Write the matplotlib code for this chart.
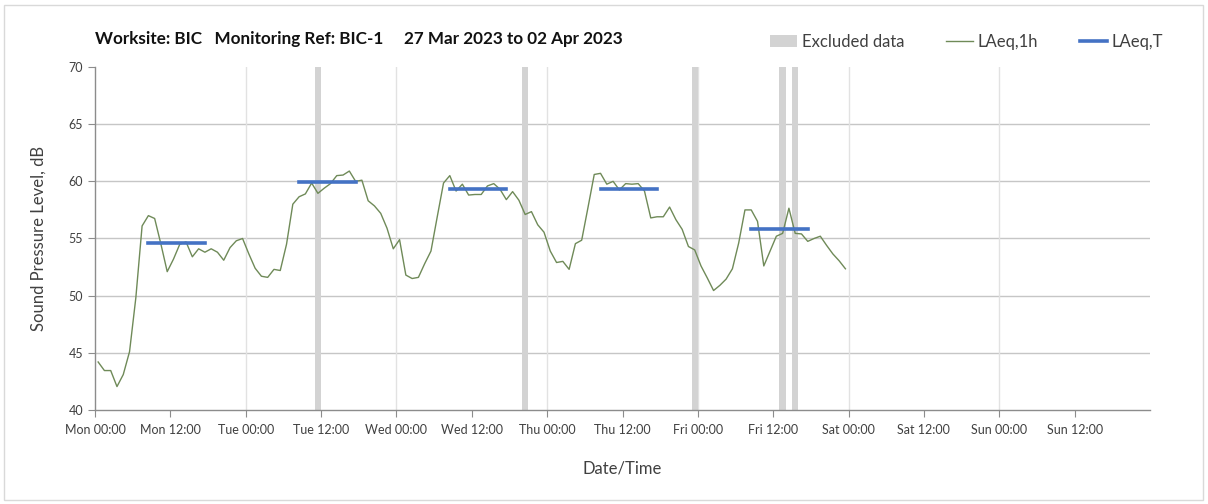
import matplotlib
matplotlib.use("Agg")
import matplotlib.pyplot as plt
import matplotlib.patches as mpatches
from matplotlib.lines import Line2D
import numpy as np

plt.rcParams['font.family'] = ['Lato', 'DejaVu Sans']

# Hourly LAeq,1h values (dB), hour 0 = Mon 27 Mar 2023 00:00
laeq_1h = [
    44.2, 43.45, 43.45, 42.05, 43.1, 45.1, 49.8, 56.1, 57.0, 56.75,
    54.5, 52.1, 53.2, 54.5, 54.7, 53.4, 54.1, 53.8, 54.1, 53.8,
    53.1, 54.2, 54.8, 55.0, 53.65, 52.4, 51.7, 51.6, 52.3, 52.2,
    54.5, 58.0, 58.65, 58.9, 59.85, 58.95, 59.4, 59.8, 60.5, 60.55,
    60.9, 60.0, 60.1, 58.3, 57.85, 57.2, 55.9, 54.1, 54.9, 51.8,
    51.5, 51.6, 52.8, 53.9, 56.9, 59.85, 60.5, 59.15, 59.75, 58.8,
    58.85, 58.85, 59.6, 59.8, 59.3, 58.4, 59.1, 58.35, 57.1, 57.35,
    56.2, 55.55, 53.9, 52.9, 53.0, 52.3, 54.55, 54.85, 57.7, 60.6,
    60.7, 59.75, 60.0, 59.25, 59.8, 59.75, 59.8, 59.15, 56.8, 56.9,
    56.9, 57.75, 56.65, 55.8, 54.3, 54.0, 52.6, 51.55, 50.45, 50.9,
    51.45, 52.35, 54.6, 57.5, 57.5, 56.5, 52.6, 53.9, 55.2, 55.45,
    57.65, 55.45, 55.4, 54.75, 55.0, 55.2, 54.4, 53.65, 53.05, 52.35,
]

# LAeq,T periods (start hour, end hour, level)
laeq_t_start = [8, 32, 56, 80, 104]
laeq_t_end = [18, 42, 66, 90, 114]
laeq_t_level = [54.6, 59.9, 59.3, 59.3, 55.8]

# Excluded data hours (start hour of each excluded 1h period)
excluded_start = [35, 68, 95, 109, 111]

tick_hours = list(range(0, 157, 12))
tick_labels = ["Mon 00:00", "Mon 12:00", "Tue 00:00", "Tue 12:00", "Wed 00:00",
               "Wed 12:00", "Thu 00:00", "Thu 12:00", "Fri 00:00", "Fri 12:00",
               "Sat 00:00", "Sat 12:00", "Sun 00:00", "Sun 12:00"]

W, H = 1208, 504
fig = plt.figure(figsize=(W / 100, H / 100), dpi=100)
ax = fig.add_axes([95 / W, (H - 410) / H, (1150 - 95) / W, (410 - 67) / H])

hours = np.arange(len(laeq_1h)) + 0.5

# excluded bands
for s in excluded_start:
    ax.axvspan(s, s + 1, color='#d3d3d3', lw=0, zorder=1)

# grid
for y in range(45, 70, 5):
    ax.axhline(y, color='#c6c6c6', lw=1.0, zorder=0.5)
for x in range(24, 145, 24):
    ax.axvline(x, color='#e2e2e2', lw=1.0, zorder=0.5)

ax.plot(hours, laeq_1h, color='#6f8a58', lw=1.0, zorder=3)
for s, e, lv in zip(laeq_t_start, laeq_t_end, laeq_t_level):
    ax.plot([s + 0.5, e - 0.5], [lv, lv], color='#4472c4', lw=2.6,
            solid_capstyle='projecting', zorder=4)

ax.set_xlim(0, 168)
ax.set_ylim(40, 70)
ax.set_yticks(range(40, 71, 5))
ax.set_xticks(tick_hours)
ax.set_xticklabels(tick_labels)
for sp in ['top', 'right']:
    ax.spines[sp].set_visible(False)
for sp in ['left', 'bottom']:
    ax.spines[sp].set_color('#8c8c8c')
    ax.spines[sp].set_linewidth(1.0)
ax.tick_params(axis='both', direction='out', length=5, color='#8c8c8c',
               labelsize=9, labelcolor='#404040')
ax.tick_params(axis='x', pad=5)

ax.set_ylabel("Sound Pressure Level, dB", fontsize=12, color='#404040', labelpad=16)
fig.text(622 / W, 1 - 468 / H, "Date/Time", ha='center', va='center',
         fontsize=12, color='#404040')

fig.text(95 / W, 1 - 39 / H,
         "Worksite: BIC   Monitoring Ref: BIC-1     27 Mar 2023 to 02 Apr 2023",
         ha='left', va='center', fontsize=12.3, fontweight='bold', color='#111111')

handles = [mpatches.Patch(color='#d3d3d3', lw=0),
           Line2D([], [], color='#6f8a58', lw=1.0),
           Line2D([], [], color='#4472c4', lw=2.6)]
leg = fig.legend(handles, ["Excluded data", "LAeq,1h", "LAeq,T"],
                 loc='center right', bbox_to_anchor=(1178 / W, 1 - 42 / H),
                 ncol=3, frameon=False, fontsize=12, handlelength=1.6,
                 handletextpad=0.3, columnspacing=2.5, labelcolor='#404040')

# outer chart border
fig.patches.append(mpatches.Rectangle((4 / W, 4 / H), 1 - 9 / W, 1 - 9 / H,
                                      transform=fig.transFigure, fill=False,
                                      edgecolor='#d9d9d9', lw=1.0))

fig.savefig("out.png", dpi=100)
